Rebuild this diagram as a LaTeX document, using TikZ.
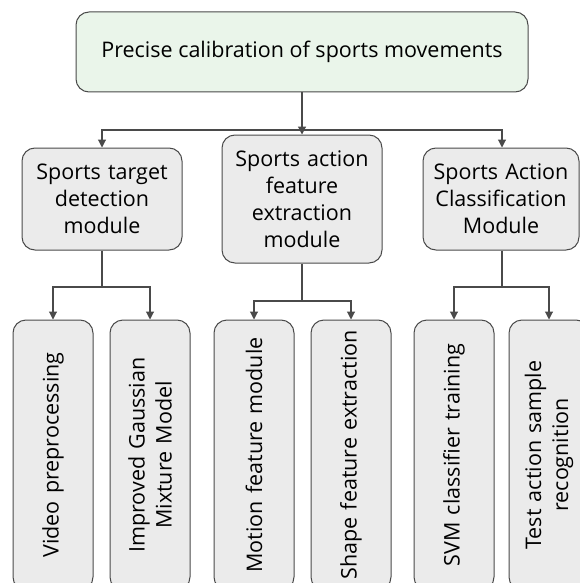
\documentclass[tikz,border=0pt]{standalone}
\usepackage{fontspec}
\setmainfont{Open Sans}
\usetikzlibrary{arrows.meta}

\definecolor{edge}{HTML}{4A4A4A}
\definecolor{greenfill}{HTML}{EAF5EA}
\definecolor{grayfill}{HTML}{EBEBEB}

\tikzset{
  box/.style={draw=edge, line width=1pt, rounded corners=13pt, align=center,
    inner sep=0pt, font=\fontsize{21.5}{27}\selectfont},
  rootbox/.style={box, fill=greenfill, minimum width=452pt, minimum height=80pt},
  midbox/.style={box, fill=grayfill, minimum width=160pt, text width=156pt},
  leafbox/.style={box, fill=grayfill, minimum width=270pt, minimum height=80pt,
    rotate=90, text width=264pt},
  link/.style={draw=edge, line width=1.1pt},
  arr/.style={link, -{Triangle[length=8pt,width=8pt]}}
}

\begin{document}
\begin{tikzpicture}[x=1pt,y=-1pt]
\useasboundingbox (0,0) rectangle (580,583);
\clip (0,0) rectangle (580,583);

% root
\node[rootbox] (root) at (302,52) {Precise calibration of sports movements};

% modules
\node[midbox, minimum height=102pt] (m1) at (102,199) {Sports target\\detection\\module};
\node[midbox, minimum height=128pt] (m2) at (302,199) {Sports action\\feature\\extraction\\module};
\node[midbox, minimum height=102pt, minimum width=156pt] (m3) at (501,199) {Sports Action\\Classification\\Module};

% leaves (rotated, reading upwards)
\node[leafbox] (l1) at (53,455) {Video preprocessing};
\node[leafbox] (l2) at (150,455) {Improved Gaussian\\Mixture Model};
\node[leafbox] (l3) at (254,455) {Motion feature module};
\node[leafbox] (l4) at (351,455) {Shape feature extraction};
\node[leafbox] (l5) at (454,455) {SVM classifier training};
\node[leafbox] (l6) at (549,455) {Test action sample\\recognition};

% junction points
\coordinate (j0) at (302,130);
\coordinate (j1) at (102,287);
\coordinate (j2) at (302,301);
\coordinate (j3) at (502,287);

% root to modules
\draw[link] (root.south) -- (j0);
\draw[arr] (j0) -| (m1.north);
\draw[arr] (j0) -- (m2.north);
\draw[arr] (j0) -| ([xshift=1pt]m3.north);

% modules to leaves
\draw[link] (m1.south) -- (j1);
\draw[arr] (j1) -| (l1.east);
\draw[arr] (j1) -| (l2.east);
\draw[link] (m2.south) -- (j2);
\draw[arr] (j2) -| (l3.east);
\draw[arr] (j2) -| (l4.east);
\draw[link] ([xshift=1pt]m3.south) -- (j3);
\draw[arr] (j3) -| (l5.east);
\draw[arr] (j3) -| (l6.east);
\end{tikzpicture}
\end{document}
